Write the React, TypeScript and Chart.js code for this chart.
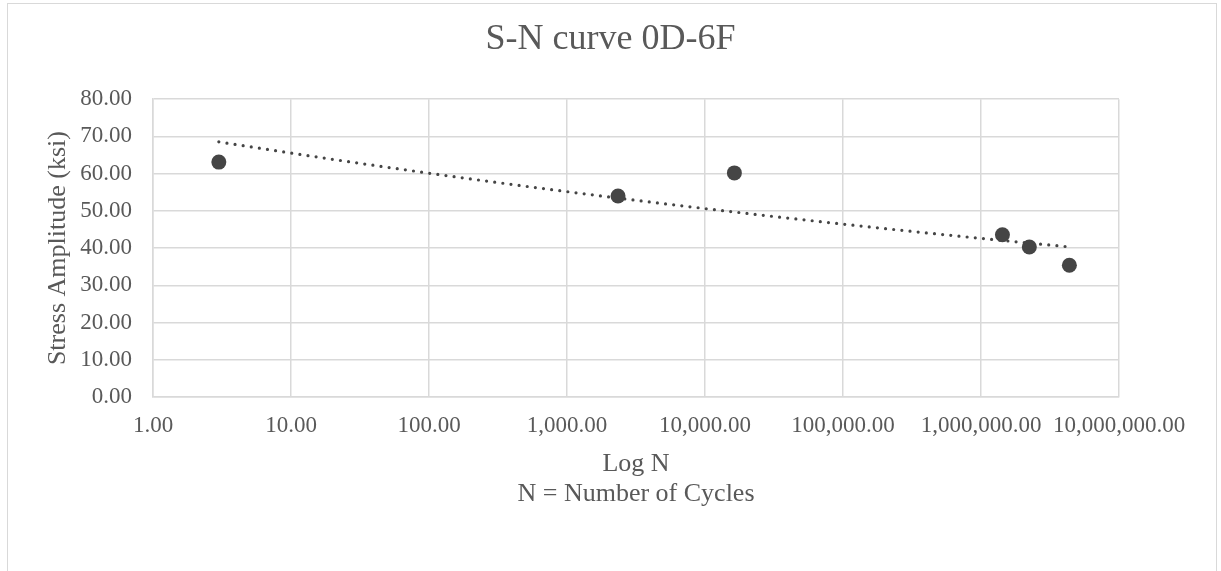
import React, { useEffect, useRef } from "react";
import { Chart, registerables } from "chart.js";

Chart.register(...registerables);

// ---- Data ----
const cyclesN = [3, 2343, 16330, 1430000, 2240000, 4370000];
const stressKsi = [63.1, 54.0, 60.2, 43.6, 40.3, 35.4];
const xTickValues = [1, 10, 100, 1000, 10000, 100000, 1000000, 10000000];
const yTickValues = [0, 10, 20, 30, 40, 50, 60, 70, 80];
const chartTitle = "S-N curve 0D-6F";
const xAxisTitle = ["Log N", "N = Number of Cycles"];
const yAxisTitle = "Stress Amplitude (ksi)";

const FONT = "'Liberation Serif', 'Times New Roman', serif";
const TEXT = "#595959";
const GRID = "#d9d9d9";
const MARK = "#454545";

// Power trendline (y = a * x^b), fitted to the data series like a spreadsheet trendline
function powerTrendline(xs: number[], ys: number[], samples: number) {
  const lx = xs.map((v) => Math.log(v));
  const ly = ys.map((v) => Math.log(v));
  const n = xs.length;
  const mx = lx.reduce((a, b) => a + b, 0) / n;
  const my = ly.reduce((a, b) => a + b, 0) / n;
  let sxy = 0;
  let sxx = 0;
  for (let i = 0; i < n; i++) {
    sxy += (lx[i] - mx) * (ly[i] - my);
    sxx += (lx[i] - mx) * (lx[i] - mx);
  }
  const b = sxy / sxx;
  const a = my - b * mx;
  const lo = Math.min(...lx);
  const hi = Math.max(...lx);
  const pts: { x: number; y: number }[] = [];
  for (let i = 0; i <= samples; i++) {
    const t = lo + ((hi - lo) * i) / samples;
    pts.push({ x: Math.exp(t), y: Math.exp(a + b * t) });
  }
  return pts;
}

const fmt2 = (v: number) =>
  Number(v).toLocaleString("en-US", { minimumFractionDigits: 2, maximumFractionDigits: 2 });

export default function App() {
  const ref = useRef<HTMLCanvasElement | null>(null);

  useEffect(() => {
    if (!ref.current) return;
    const chart = new Chart(ref.current, {
      type: "scatter",
      data: {
        datasets: [
          {
            label: "Trend",
            data: powerTrendline(cyclesN, stressKsi, 60),
            showLine: true,
            borderColor: MARK,
            borderWidth: 3.2,
            borderCapStyle: "round",
            borderDash: [0, 8.2],
            pointRadius: 0,
            fill: false,
            order: 2,
          } as any,
          {
            label: "Data",
            data: cyclesN.map((x, i) => ({ x, y: stressKsi[i] })),
            backgroundColor: MARK,
            borderColor: MARK,
            borderWidth: 0,
            pointRadius: 7.5,
            showLine: false,
            order: 1,
          },
        ],
      },
      options: {
        animation: false,
        responsive: false,
        devicePixelRatio: 1,
        layout: { padding: { top: 0, left: 0, right: 0, bottom: 0 } },
        plugins: {
          legend: { display: false },
          tooltip: { enabled: false },
          title: {
            display: true,
            text: chartTitle,
            color: TEXT,
            font: { family: FONT, size: 36, weight: "normal", lineHeight: 1.2 },
            padding: { top: 18, bottom: 38 },
          },
        },
        scales: {
          x: {
            type: "logarithmic",
            position: "bottom",
            min: 1,
            max: 10000000,
            afterBuildTicks: (s: any) => {
              s.ticks = xTickValues.map((v) => ({ value: v }));
            },
            afterFit: (s: any) => {
              s.height = 174;
            },
            ticks: {
              callback: (v: any) => fmt2(v),
              color: TEXT,
              font: { family: FONT, size: 23 },
              padding: 15,
              maxRotation: 0,
              autoSkip: false,
            },
            grid: { color: GRID, lineWidth: 1.5, drawTicks: false },
            border: { color: GRID, width: 1.5 },
            title: {
              display: true,
              text: xAxisTitle,
              color: TEXT,
              font: { family: FONT, size: 26, lineHeight: 1.15 },
              padding: { top: 0, bottom: 62 },
            },
          },
          y: {
            type: "linear",
            position: "left",
            min: 0,
            max: 80,
            afterBuildTicks: (s: any) => {
              s.ticks = yTickValues.map((v) => ({ value: v }));
            },
            afterFit: (s: any) => {
              s.width = 153;
            },
            ticks: {
              callback: (v: any) => Number(v).toFixed(2),
              color: TEXT,
              font: { family: FONT, size: 23 },
              padding: 21,
            },
            grid: { color: GRID, lineWidth: 1.5, drawTicks: false },
            border: { color: GRID, width: 1.5 },
            title: {
              display: true,
              text: yAxisTitle,
              color: TEXT,
              font: { family: FONT, size: 26, lineHeight: 1.15 },
              padding: { top: 43, bottom: 0 },
            },
          },
          // empty right-hand spacer so the plot area ends where the reference's does
          yRight: {
            type: "linear",
            position: "right",
            display: true,
            afterFit: (s: any) => {
              s.width = 102;
            },
            grid: { display: false, drawOnChartArea: false },
            ticks: { display: false },
            border: { display: false },
          },
        },
      },
    });
    return () => chart.destroy();
  }, []);

  return (
    <div style={{ position: "absolute", left: 0, top: 0, width: 1221, height: 571, background: "#fff", overflow: "hidden" }}>
      <div
        style={{
          position: "absolute",
          left: 7,
          top: 3,
          width: 1210,
          height: 620,
          border: "1px solid #d9d9d9",
          boxSizing: "border-box",
        }}
      />
      <canvas ref={ref} width={1221} height={571} style={{ position: "absolute", left: 0, top: 0, width: 1221, height: 571 }} />
    </div>
  );
}
